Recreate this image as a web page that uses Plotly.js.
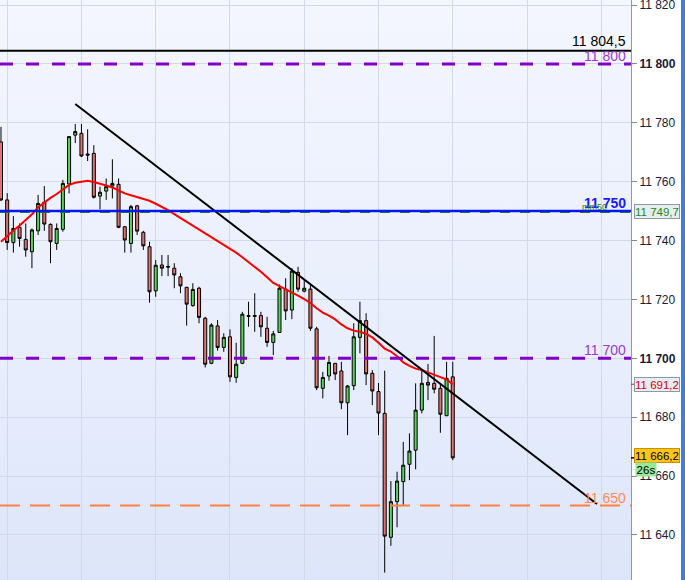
<!DOCTYPE html>
<html>
<head>
<meta charset="utf-8">
<script src="https://cdn.plot.ly/plotly-3.0.1.min.js"></script>
<style>
  html, body { margin: 0; padding: 0; background: #ffffff; }
  #wrap { position: relative; width: 685px; height: 580px; overflow: hidden;
          background: linear-gradient(to bottom, #f4f6ff 0%, #e8eefc 60%, #dde5fa 100%) no-repeat;
          background-size: 631px 580px; }
  #chart { position: absolute; left: 0; top: 0; width: 681px; height: 580px; }
  #strip { position: absolute; left: 681px; top: 0; width: 4px; height: 580px; background: #3c7fe0; }
</style>
</head>
<body>
<div id="wrap"><div id="chart"></div><div id="strip"></div></div>
<script>
// ---- data ----
const opens  = [11773.5,11753.8,11739.3,11744.5,11740.4,11736.2,11743.3,11753.0,11745.5,11739.0,
                11743.8,11759.2,11775.8,11776.4,11769.4,11769.6,11755.1,11756.8,11758.5,11759.1,
                11744.7,11739.0,11751.8,11742.8,11737.9,11722.9,11731.7,11731.2,11730.6,11727.7,
                11724.1,11717.9,11723.8,11713.6,11698.3,11711.0,11703.7,11707.3,11693.5,11698.3,
                11714.5,11714.5,11714.5,11710.2,11705.4,11708.8,11723.5,11716.4,11729.2,11722.8,
                11723.5,11710.0,11689.8,11694.0,11698.3,11695.7,11684.9,11690.7,11707.1,11712.8,
                11694.9,11688.7,11681.3,11639.2,11651.3,11658.1,11664.0,11668.8,11682.4,11691.8,
                11691.5,11689.8,11680.5,11693.7];
const highs  = [11778.6,11756.1,11748.3,11745.8,11745.8,11744.1,11755.5,11758.5,11745.8,11745.8,
                11760.6,11775.5,11779.6,11779.6,11777.8,11772.4,11758.3,11761.1,11767.6,11761.1,
                11744.9,11752.1,11752.1,11743.3,11739.6,11733.4,11735.1,11735.1,11732.3,11728.9,
                11724.3,11725.5,11724.3,11714.1,11711.9,11713.0,11708.5,11709.8,11705.3,11715.8,
                11719.2,11722.1,11715.8,11714.1,11709.3,11725.1,11727.2,11730.6,11731.1,11726.9,
                11724.9,11710.7,11695.4,11700.8,11698.4,11698.8,11690.9,11711.9,11719.2,11715.3,
                11696.0,11691.6,11695.8,11658.3,11661.5,11671.6,11674.5,11691.5,11696.0,11698.1,
                11707.6,11691.5,11698.8,11698.8];
const lows   = [11753.4,11736.8,11735.9,11737.9,11734.5,11730.6,11741.9,11743.3,11732.3,11736.8,
                11743.0,11756.0,11773.1,11768.4,11767.0,11754.3,11750.6,11753.8,11754.3,11744.2,
                11735.9,11735.9,11741.9,11736.8,11718.9,11720.9,11727.9,11727.9,11723.8,11722.1,
                11711.1,11717.5,11711.9,11696.9,11698.0,11702.6,11702.2,11692.0,11691.7,11698.0,
                11710.7,11709.0,11707.3,11703.9,11701.1,11708.6,11713.0,11713.3,11722.6,11722.4,
                11709.3,11689.2,11686.4,11692.4,11692.6,11682.7,11673.9,11689.2,11701.7,11690.9,
                11684.1,11673.9,11627.2,11636.3,11642.6,11650.2,11658.6,11662.3,11681.3,11685.8,
                11688.1,11674.7,11680.5,11665.4];
const closes = [11753.8,11739.3,11744.1,11740.7,11736.8,11743.6,11752.6,11745.6,11739.6,11744.1,
                11759.4,11775.3,11777.0,11768.7,11769.0,11754.7,11756.4,11758.3,11759.4,11744.5,
                11740.2,11751.5,11743.2,11738.2,11722.6,11731.6,11730.6,11731.0,11728.3,11724.6,
                11718.4,11723.4,11713.9,11698.0,11711.3,11703.7,11707.1,11693.7,11698.0,11715.0,
                11714.2,11714.3,11710.7,11705.4,11708.3,11723.8,11716.1,11729.6,11723.5,11723.8,
                11710.2,11690.0,11693.5,11698.6,11694.7,11684.9,11690.6,11707.3,11712.8,11694.7,
                11688.9,11681.4,11639.6,11651.3,11658.3,11663.7,11668.5,11682.4,11691.5,11690.9,
                11689.5,11681.0,11693.2,11666.2];
// moving average (red line), read at each candle
const movingAvg = [11739.6,11741.6,11743.4,11745.1,11747.0,11748.9,11751.3,11753.0,11754.5,11755.8,
                   11757.2,11758.9,11759.6,11760.0,11760.3,11759.9,11759.4,11758.7,11758.0,11757.0,
                   11756.0,11755.4,11754.8,11754.2,11753.5,11752.5,11751.5,11750.3,11749.0,11747.7,
                   11746.4,11745.1,11743.9,11742.6,11741.3,11740.0,11738.8,11737.5,11735.9,11734.3,
                   11732.7,11731.1,11729.4,11727.5,11725.6,11724.5,11723.5,11722.5,11721.3,11720.1,
                   11718.8,11717.0,11715.5,11714.5,11713.2,11711.5,11710.2,11709.4,11709.0,11708.3,
                   11707.1,11705.3,11703.3,11702.3,11700.7,11698.6,11697.4,11696.5,11696.0,11695.2,
                   11694.3,11693.6,11692.8,11691.2];
// trend line (candle index, price) endpoints
const trendX = [12.0, 96.3];
const trendY = [11786.4, 11650.5];
// horizontal levels
const levelBlack  = 11804.5;
const levelsPurple = [11800, 11700];
const levelBlue   = 11750;
const levelGreen  = 11749.7;
const levelOrange = 11650;
// axis ticks
const tickValues = [11640, 11660, 11680, 11700, 11720, 11740, 11760, 11780, 11800, 11820];
const tickLabels = ['11 640','11 660','11 680','<b>11 700</b>','11 720','11 740','11 760','11 780','<b>11 800</b>','11 820'];
// price tags on axis
const maTag = 11691.2;
const lastTag = 11666.2;

const idx = opens.map((_, i) => i);
const FONT = '"Liberation Sans", Arial, sans-serif';

const traces = [
  {
    type: 'candlestick', x: idx, open: opens, high: highs, low: lows, close: closes,
    increasing: { line: { color: '#000000', width: 1 }, fillcolor: '#58d458' },
    decreasing: { line: { color: '#000000', width: 1 }, fillcolor: '#e07470' },
    whiskerwidth: 0, showlegend: false, hoverinfo: 'skip'
  },
  {
    type: 'scatter', mode: 'lines', x: idx, y: movingAvg,
    line: { color: '#ff0000', width: 2 }, showlegend: false, hoverinfo: 'skip'
  },
  {
    type: 'scatter', mode: 'lines', x: trendX, y: trendY,
    line: { color: '#000000', width: 2 }, showlegend: false, hoverinfo: 'skip'
  }
];

function hline(y, color, width, dash) {
  return { type: 'line', xref: 'paper', yref: 'y', x0: 0, x1: 1, y0: y, y1: y,
           line: { color: color, width: width, dash: dash || 'solid' }, layer: 'above' };
}
const shapes = [
  hline(levelBlack, '#000000', 2),
  hline(levelsPurple[0], '#8000c8', 3, '13px,13px'),
  hline(levelsPurple[1], '#8000c8', 3, '13px,13px'),
  hline(levelGreen, '#208a20', 2, '10px,10px'),
  hline(levelBlue, '#0018e8', 2.5),
  hline(levelOrange, '#ff8040', 2, '20px,10px'),
  { type: 'line', xref: 'paper', yref: 'y', x0: 1, x1: 1.012, y0: maTag, y1: maTag, line: { color: '#ff0000', width: 1 } },
  { type: 'line', xref: 'paper', yref: 'y', x0: 1, x1: 1.012, y0: lastTag, y1: lastTag, line: { color: '#000000', width: 1.5 } }
];

function label(text, y, color, size, bold, shift) {
  return { xref: 'paper', yref: 'y', x: 0.996, y: y, xanchor: 'right', yanchor: 'bottom',
           text: bold ? '<b>' + text + '</b>' : text, showarrow: false, yshift: shift,
           font: { family: FONT, size: size, color: color } };
}
function tag(text, y, color, bg, border) {
  return { xref: 'paper', yref: 'y', x: 1.0048, y: y, xanchor: 'left', yanchor: 'middle',
           text: text, showarrow: false, width: 44, height: 13, align: 'left',
           bgcolor: bg, bordercolor: border, borderwidth: 1, borderpad: 0,
           font: { family: FONT, size: 11.5, color: color } };
}
const annotations = [
  label('11 804,5', levelBlack, '#000000', 14, false, 0),
  label('11 800', levelsPurple[0], '#9a3ad0', 14, false, -2),
  label('11 750', levelBlue, '#1a1aff', 14, true, -2),
  { xref: 'paper', yref: 'y', x: 0.965, y: levelBlue, xanchor: 'right', yanchor: 'bottom', yshift: -3,
    text: 'mm50', showarrow: false, font: { family: FONT, size: 9, color: '#208a20' } },
  label('11 700', levelsPurple[1], '#9a3ad0', 14, false, -2),
  label('11 650', levelOrange, '#ff8a55', 14, false, -2),
  tag('11 749,7', levelGreen, '#208a20', '#e6eef0', '#8a9aa8'),
  tag('11 691,2', maTag, '#e00000', '#e8ecf4', '#8a9aa8'),
  tag('11 666,2', 11667.0, '#000000', '#ffc418', '#c89000'),
  { xref: 'paper', yref: 'y', x: 1.0063, y: 11662.3, xanchor: 'left', yanchor: 'middle',
    text: '26s', showarrow: false, width: 20, height: 13, bgcolor: '#98e898', borderpad: 0,
    font: { family: FONT, size: 11.5, color: '#000000' } }
];

const layout = {
  width: 681, height: 580,
  margin: { l: 0, r: 50, t: 0, b: 0, pad: 0 },
  paper_bgcolor: 'rgba(0,0,0,0)', plot_bgcolor: 'rgba(0,0,0,0)',
  showlegend: false,
  xaxis: {
    range: [-0.16, 101.8], showticklabels: false, ticks: '',
    tick0: 1, dtick: 12, showgrid: true, gridcolor: '#d2d9e8', gridwidth: 1,
    zeroline: false, showline: false, rangeslider: { visible: false }, fixedrange: true
  },
  yaxis: {
    side: 'right', range: [11624.7, 11821.7],
    tickmode: 'array', tickvals: tickValues, ticktext: tickLabels,
    ticks: 'outside', ticklen: 5, tickcolor: '#7a8a9a', ticklabeloverflow: 'allow',
    showline: true, linecolor: '#8a9aaa', linewidth: 1,
    showgrid: true, gridcolor: '#d2d9e8', gridwidth: 1, zeroline: false,
    tickfont: { family: FONT, size: 12, color: '#1a1a3a' }, fixedrange: true
  },
  shapes: shapes,
  annotations: annotations,
  font: { family: FONT }
};

Plotly.newPlot('chart', traces, layout, { displayModeBar: false, staticPlot: true });
</script>
</body>
</html>
